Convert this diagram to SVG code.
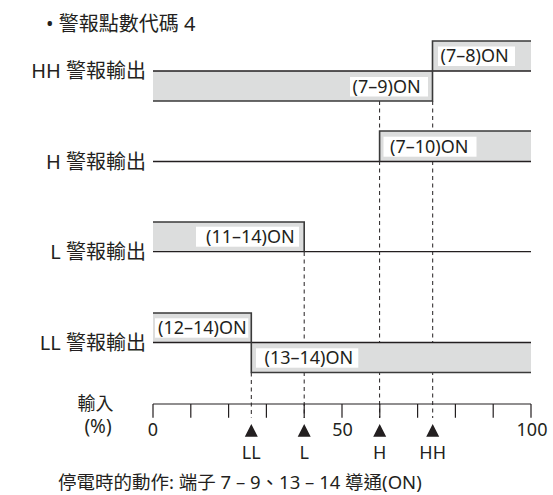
<svg xmlns="http://www.w3.org/2000/svg" width="553" height="495" viewBox="0 0 553 495">
<style>
text{font-family:"Noto Sans","Noto Sans CJK TC",sans-serif;fill:#231f20}
.lbl{font-size:20px;text-anchor:end}
.on{font-size:18px}
.ax{font-size:18px;text-anchor:middle}
.shade{fill:#dcdddd;stroke:none}
.base{stroke:#231f20;stroke-width:1.3;fill:none}
.wave{stroke:#3a3a3a;stroke-width:1.6;fill:none}
.box{fill:#ffffff}
.dash{stroke:#231f20;stroke-width:1;stroke-dasharray:4 3.5;fill:none}
.tick{stroke:#231f20;stroke-width:1.2;fill:none}
</style>
<rect width="553" height="495" fill="#ffffff"/>
<g id="title"><text x="46" y="30.5" style="font-size:20px">• 警報點數代碼 4</text></g>
<g id="connectors">
<line class="dash" x1="432.7" y1="101" x2="432.7" y2="418"/>
<line class="dash" x1="379.6" y1="101" x2="379.6" y2="418"/>
<line class="dash" x1="304.2" y1="252" x2="304.2" y2="418"/>
<line class="dash" x1="251.3" y1="372.5" x2="251.3" y2="418"/>
</g>
<g id="hh-row">
<rect class="shade" x="153" y="71" width="279.5" height="30"/>
<rect class="shade" x="432.5" y="41" width="98.5" height="30"/>
<line class="base" x1="153" y1="71" x2="531" y2="71"/>
<path class="wave" d="M153,101 H432.5 V41 H531"/>
<rect class="box" x="438" y="46.5" width="77" height="19.5"/>
<text class="on" x="440.5" y="62">(7–8)ON</text>
<rect class="box" x="350" y="77" width="78" height="19.5"/>
<text class="on" x="352.5" y="92.5">(7–9)ON</text>
<text class="lbl" x="146" y="78">HH 警報輸出</text>
</g>
<g id="h-row">
<rect class="shade" x="379.6" y="131" width="151.4" height="30.5"/>
<line class="base" x1="153" y1="161.5" x2="531" y2="161.5"/>
<path class="wave" d="M379.6,161.5 V131 H531"/>
<rect class="box" x="383.5" y="136.7" width="93" height="20"/>
<text class="on" x="390" y="152.5">(7–10)ON</text>
<text class="lbl" x="146" y="168.5">H 警報輸出</text>
</g>
<g id="l-row">
<rect class="shade" x="153" y="222" width="151.2" height="29.7"/>
<line class="base" x1="153" y1="251.7" x2="531" y2="251.7"/>
<path class="wave" d="M153,222 H304.2 V251.7"/>
<rect class="box" x="196" y="226.7" width="103" height="20"/>
<text class="on" x="206" y="242.5">(11–14)ON</text>
<text class="lbl" x="146" y="258.7">L 警報輸出</text>
</g>
<g id="ll-row">
<rect class="shade" x="153" y="313" width="98.3" height="29.5"/>
<rect class="shade" x="251.3" y="342.5" width="279.7" height="30"/>
<line class="base" x1="153" y1="342.5" x2="531" y2="342.5"/>
<path class="wave" d="M153,313 H251.3 V372.5 H531"/>
<rect class="box" x="155" y="318.3" width="93.3" height="19.4"/>
<text class="on" x="158" y="334">(12–14)ON</text>
<rect class="box" x="256" y="348.3" width="102.3" height="19.4"/>
<text class="on" x="264.5" y="364">(13–14)ON</text>
<text class="lbl" x="146" y="349.5">LL 警報輸出</text>
</g>
<g id="axis">
<line class="tick" x1="153" y1="404" x2="531" y2="404"/>
<path class="tick" d="M153,404V417.7 M190.8,404V417.7 M228.6,404V417.7 M266.4,404V417.7 M304.2,404V417.7 M342,404V417.7 M379.8,404V417.7 M417.6,404V417.7 M455.4,404V417.7 M493.2,404V417.7 M531,404V417.7"/>
<text class="ax" x="95.5" y="410">輸入</text>
<text class="ax" x="98" y="433" style="font-size:19px">(%)</text>
<text class="ax" x="153" y="436">0</text>
<text class="ax" x="342.5" y="436">50</text>
<text class="ax" x="532" y="436">100</text>
</g>
<g id="markers">
<path fill="#231f20" d="M251.3,424 L257.8,436.7 L244.8,436.7 Z M304.2,424 L310.7,436.7 L297.7,436.7 Z M379.7,424 L386.2,436.7 L373.2,436.7 Z M432.7,424 L439.2,436.7 L426.2,436.7 Z"/>
<text class="ax" x="251.3" y="459.3">LL</text>
<text class="ax" x="304.2" y="459.3">L</text>
<text class="ax" x="379.7" y="459.3">H</text>
<text class="ax" x="432.7" y="459.3">HH</text>
</g>
<g id="footer"><text x="58" y="489" style="font-size:18.5px">停電時的動作: 端子 7 – 9、13 – 14 導通(ON)</text></g>
</svg>
